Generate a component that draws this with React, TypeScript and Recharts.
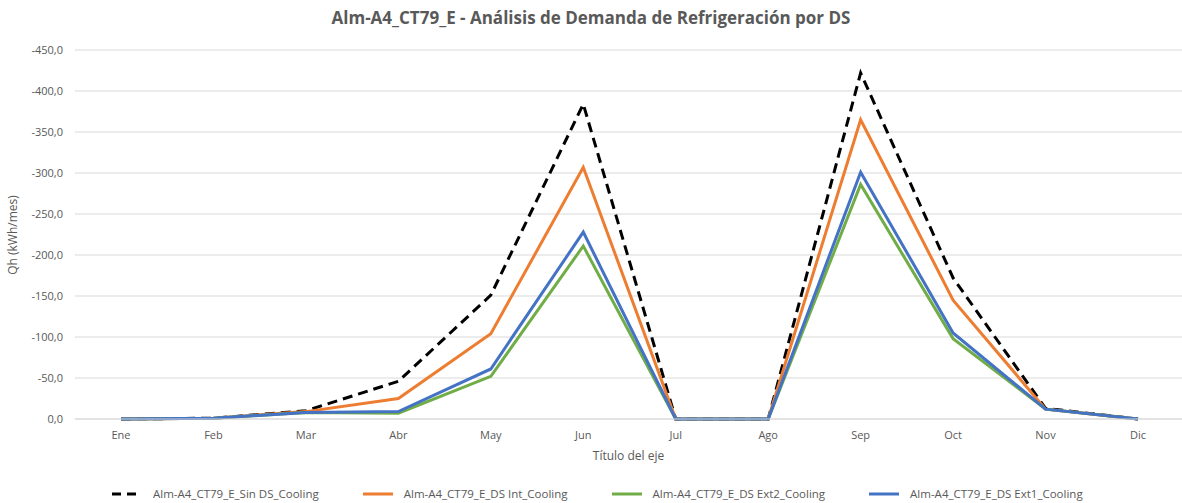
import { LineChart, Line, XAxis, YAxis, CartesianGrid } from 'recharts';

const months = ['Ene', 'Feb', 'Mar', 'Abr', 'May', 'Jun', 'Jul', 'Ago', 'Sep', 'Oct', 'Nov', 'Dic'];
const sinDS = [0, -1, -10, -46, -151, -384, 0, 0, -422, -172, -13, 0];
const dsInt = [0, -1, -9, -25, -104, -307, 0, 0, -365, -145, -12, 0];
const dsExt2 = [0, -1, -8, -7, -52, -211, 0, 0, -286, -98, -12, 0];
const dsExt1 = [0, -1, -8, -9, -61, -228, 0, 0, -301, -105, -12, 0];
const yTicks = [0, -50, -100, -150, -200, -250, -300, -350, -400, -450];

const data = months.map((m, i) => ({
    name: m,
    sin: sinDS[i],
    int: dsInt[i],
    ext2: dsExt2[i],
    ext1: dsExt1[i],
}));

const series = [
    { key: 'sin', label: 'Alm-A4_CT79_E_Sin DS_Cooling', color: '#000000', dash: '10 6' },
    { key: 'int', label: 'Alm-A4_CT79_E_DS Int_Cooling', color: '#ED7D31', dash: undefined },
    { key: 'ext2', label: 'Alm-A4_CT79_E_DS Ext2_Cooling', color: '#70AD47', dash: undefined },
    { key: 'ext1', label: 'Alm-A4_CT79_E_DS Ext1_Cooling', color: '#4472C4', dash: undefined },
];

const font = '"Open Sans", sans-serif';
const fmt = (v: number) => v.toFixed(1).replace('.', ',');

function LegendBox() {
    return (
        <div style={{ position: 'absolute', top: 486, left: 112, display: 'flex', gap: 44, fontSize: 11.5, color: '#595959' }}>
            {series.map((s) => (
                <div key={s.key} style={{ display: 'flex', alignItems: 'center' }}>
                    <svg width={30} height={6} style={{ marginRight: 11 }}>
                        <line x1={0} y1={3} x2={30} y2={3} stroke={s.color} strokeWidth={3} strokeDasharray={s.dash ? '9 6' : undefined} />
                    </svg>
                    <span>{s.label}</span>
                </div>
            ))}
        </div>
    );
}

export default function App() {
    return (
        <div style={{ position: 'absolute', left: 0, top: 0, width: 1182, height: 503, background: '#fff', fontFamily: font, color: '#595959' }}>
            <div style={{ position: 'absolute', top: 6, width: '100%', textAlign: 'center', fontSize: 17, fontWeight: 700 }}>
                Alm-A4_CT79_E - Análisis de Demanda de Refrigeración por DS
            </div>
            <LineChart width={1182} height={503} data={data} margin={{ top: 50, right: 0, left: 10, bottom: 54 }}>
                <CartesianGrid vertical={false} stroke="#d9d9d9" />
                <XAxis
                    dataKey="name"
                    tickLine={false}
                    axisLine={{ stroke: '#d9d9d9' }}
                    tick={{ fill: '#595959', fontSize: 11 }}
                    tickMargin={6}
                    padding={{ left: 46, right: 44 }}
                    height={30}
                />
                <YAxis
                    domain={[-450, 0]}
                    reversed
                    ticks={yTicks}
                    tickFormatter={fmt}
                    axisLine={false}
                    tickLine={false}
                    tick={{ fill: '#595959', fontSize: 11 }}
                    width={65}
                    tickMargin={6}
                />
                {series.map((s) => (
                    <Line
                        key={s.key}
                        dataKey={s.key}
                        name={s.label}
                        type="linear"
                        stroke={s.color}
                        strokeWidth={3}
                        strokeDasharray={s.dash}
                        dot={false}
                        isAnimationActive={false}
                    />
                ))}
            </LineChart>
            <div style={{ position: 'absolute', top: 447, left: 75, width: 1107, textAlign: 'center', fontSize: 12 }}>Título del eje</div>
            <div style={{ position: 'absolute', left: 12, top: 235, fontSize: 12, whiteSpace: 'nowrap', transform: 'translate(-50%, -50%) rotate(-90deg)' }}>
                Qh (kWh/mes)
            </div>
            <LegendBox />
        </div>
    );
}
